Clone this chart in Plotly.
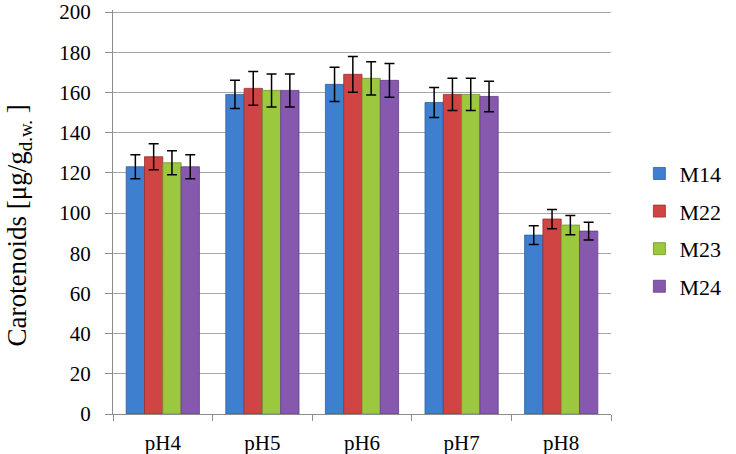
import plotly.graph_objects as go

categories = ["pH4", "pH5", "pH6", "pH7", "pH8"]
series_names = ["M14", "M22", "M23", "M24"]
m14 = [123, 159, 164, 155, 89]
m22 = [128, 162, 169, 159, 97]
m23 = [125, 161, 167, 159, 94]
m24 = [123, 161, 166, 158, 91]
m14_err = [6, 7, 8.5, 7.5, 4.7]
m22_err = [6.5, 8.4, 8.9, 8, 4.8]
m23_err = [6, 8.2, 8.3, 8, 4.8]
m24_err = [6, 8.2, 8.4, 7.6, 4.4]
y_title = "Carotenoids [μg/g<sub>d.w.</sub> ]"

values = [m14, m22, m23, m24]
errors = [m14_err, m22_err, m23_err, m24_err]
colors = ["#3f7fd0", "#d04444", "#9cc83f", "#8759ae"]
lines = ["#2e5f9e", "#9a2e2e", "#6f9228", "#5f3f82"]
FONT = "Liberation Serif"

fig = go.Figure()
for name, v, e, c, lc in zip(series_names, values, errors, colors, lines):
    fig.add_trace(go.Bar(
        x=categories, y=v, name=name, legendgroup=name,
        marker=dict(color=c, line=dict(color=lc, width=0.8)),
        error_y=dict(type="data", array=e, visible=True, color="black",
                     thickness=1.5, width=5),
    ))

fig.update_layout(
    width=736, height=454,
    margin=dict(l=113, r=98, t=10, b=40),
    paper_bgcolor="white", plot_bgcolor="white",
    barmode="group", bargap=0.265, bargroupgap=0,
    font=dict(family=FONT, size=21, color="black"),
    showlegend=True,
    legend=dict(x=1.057, xanchor="left", y=0.455, yanchor="middle",
                font=dict(size=22, family=FONT, color="black"),
                traceorder="grouped", tracegroupgap=6,
                itemwidth=30, bgcolor="rgba(0,0,0,0)"),
    xaxis=dict(showline=True, linecolor="#8c8c8c", linewidth=1.2,
               ticks="outside", tickson="boundaries", ticklen=6,
               tickcolor="#8c8c8c", automargin=False, ticklabelstandoff=10,
               tickfont=dict(size=21, family=FONT, color="black"),
               showgrid=False),
    yaxis=dict(range=[0, 201], tickmode="linear", tick0=0, dtick=20,
               showline=True, linecolor="#8c8c8c",
               linewidth=1.2, ticks="outside", ticklen=7, tickcolor="#8c8c8c",
               gridcolor="#a6a6a6", gridwidth=1.2, zeroline=False,
               automargin=False, ticklabeloverflow="allow",
               ticklabelstandoff=10,
               tickfont=dict(size=21, family=FONT, color="black")),
    annotations=[dict(text=y_title, xref="paper", yref="paper",
                      x=(14 - 113) / 527, y=(414 - 225) / 404,
                      xanchor="center", yanchor="middle", textangle=-90,
                      showarrow=False,
                      font=dict(size=27, family=FONT, color="black"))],
)

fig.write_html("out.html", config={"displayModeBar": False},
               post_script="document.body.style.margin='0';")
